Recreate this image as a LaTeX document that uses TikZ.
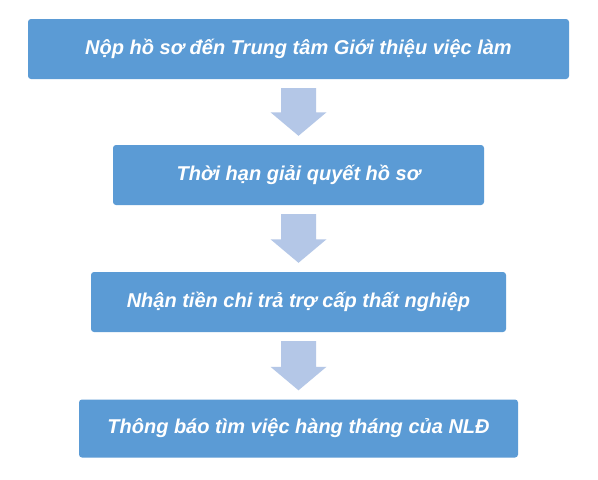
\documentclass[tikz,border=0pt]{standalone}
\usepackage{fontspec}
\setmainfont{Liberation Sans}
\usetikzlibrary{calc}
\definecolor{boxblue}{HTML}{5B9BD5}
\definecolor{arrowblue}{HTML}{B4C7E7}
\tikzset{
  stepbox/.style={rectangle, rounded corners=3pt, fill=boxblue, draw=none,
    text=white, font=\fontsize{20}{23}\selectfont\bfseries\itshape,
    minimum height=60pt, inner sep=0pt},
  blockarrow/.style={fill=arrowblue, draw=none}
}
\newcommand{\flowarrow}[2]{%
  \fill[blockarrow] let \p1=(#1.south), \p2=(#2.north) in
    (\x1-17.5pt,\y1-9pt) -- (\x1+17.5pt,\y1-9pt) -- (\x1+17.5pt,\y2+32.5pt)
    -- (\x1+28pt,\y2+32.5pt) -- (\x1,\y2+9pt) -- (\x1-28pt,\y2+32.5pt)
    -- (\x1-17.5pt,\y2+32.5pt) -- cycle;}
\begin{document}
\begin{tikzpicture}[x=1pt,y=-1pt]
\useasboundingbox (0,0) rectangle (598,480);
\fill[white] (0,0) rectangle (598,480);
\node[stepbox, minimum width=541pt] (b1) at (298.5,49) {Nộp hồ sơ đến Trung tâm Giới thiệu việc làm};
\node[stepbox, minimum width=371pt] (b2) at (298.5,175) {Thời hạn giải quyết hồ sơ};
\node[stepbox, minimum width=415pt] (b3) at (298.5,302) {Nhận tiền chi trả trợ cấp thất nghiệp};
\node[stepbox, minimum width=439pt, minimum height=58pt] (b4) at (298.5,428.5) {Thông báo tìm việc hàng tháng của NLĐ};
\flowarrow{b1}{b2}
\flowarrow{b2}{b3}
\flowarrow{b3}{b4}
\end{tikzpicture}
\end{document}
